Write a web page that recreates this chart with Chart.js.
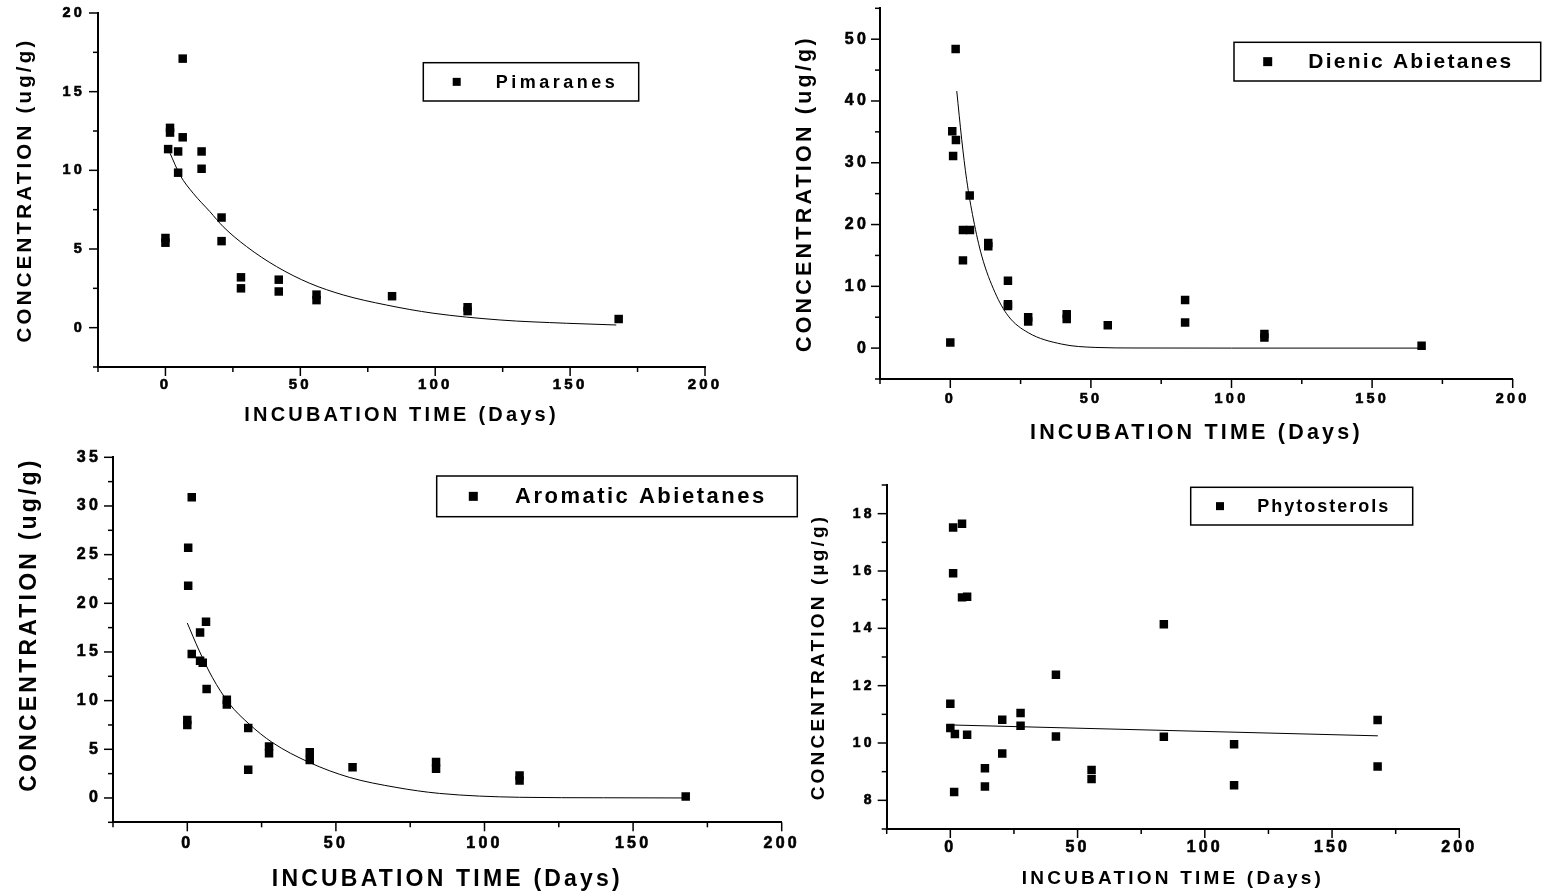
<!DOCTYPE html>
<html>
<head>
<meta charset="utf-8">
<title>Incubation time series</title>
<script src="https://cdn.jsdelivr.net/npm/chart.js@4.4.1/dist/chart.umd.min.js"></script>
<style>
  html, body { margin: 0; padding: 0; background: #fff; }
  #wrap { position: relative; width: 1545px; height: 894px; overflow: hidden; }
  canvas { position: absolute; }
</style>
</head>
<body>
<div id="wrap">
  <canvas id="pim" width="770" height="440" style="left:0px;top:0px"></canvas>
  <canvas id="dien" width="775" height="450" style="left:770px;top:0px"></canvas>
  <canvas id="arom" width="800" height="454" style="left:0px;top:440px"></canvas>
  <canvas id="phyt" width="745" height="444" style="left:800px;top:450px"></canvas>
</div>
<script>
// values (x = days, y = ug/g)
const pimDays = [0, 0, 1, 1.7, 1.7, 4.7, 4.7, 6.4, 6.4, 13.4, 13.4, 20.8, 20.8, 28, 28, 42, 42, 56, 56, 84, 112, 112, 168];
const pimConc = [5.4, 5.7, 11.35, 12.7, 12.4, 11.2, 9.85, 17.1, 12.1, 11.2, 10.1, 7.0, 5.5, 3.2, 2.5, 3.05, 2.3, 2.1, 1.75, 2.0, 1.3, 1.05, 0.55];
const pimFitDays = [1.7, 5.4, 10.3, 16.5, 21.4, 30.1, 41.2, 53.5, 65.9, 81.9, 99.2, 123.9, 148.6, 167.1];
const pimFitConc = [11.09, 9.7, 8.54, 7.37, 6.42, 5.15, 3.88, 2.82, 2.08, 1.44, 0.92, 0.49, 0.28, 0.17];

const dienDays = [0, 1.9, 0.7, 2.0, 1.0, 6.9, 4.5, 7.0, 4.5, 13.5, 13.5, 20.5, 20.5, 20.5, 27.7, 27.7, 41.4, 41.4, 56, 83.5, 83.5, 111.7, 111.7, 167.6];
const dienConc = [0.9, 48.4, 35.1, 33.7, 31.1, 24.7, 19.1, 19.1, 14.2, 16.5, 17.0, 10.9, 6.8, 7.1, 4.3, 5.0, 5.5, 4.7, 3.7, 7.8, 4.15, 1.7, 2.3, 0.37];
const dienFitDays = [2.3, 4.05, 5.8, 8.2, 11.2, 15.9, 20.6, 27.7, 39.6, 51.5, 65.7, 100, 168];
const dienFitConc = [41.6, 33.8, 27.3, 20.9, 14.9, 9.0, 5.2, 2.5, 0.65, 0.11, 0.02, 0, 0];

const aromDays = [1.5, 0.3, 0.3, 0, 0, 1.5, 4.3, 6.3, 4.3, 5.2, 6.5, 13.3, 13.3, 20.5, 20.5, 27.5, 27.5, 41.2, 41.2, 55.6, 83.7, 83.7, 111.8, 111.8, 167.7];
const aromConc = [30.9, 25.7, 21.8, 8.0, 7.5, 14.8, 17.0, 18.1, 14.1, 13.9, 11.2, 9.6, 10.1, 7.2, 2.9, 5.3, 4.6, 4.7, 3.9, 3.15, 3.7, 3.0, 2.3, 1.8, 0.15];
const aromFitDays = [0, 3.9, 8.4, 14.1, 20.8, 28.6, 41, 54.5, 70.2, 84.8, 111.8, 140, 168];
const aromFitConc = [17.97, 15.2, 12.4, 9.7, 7.6, 5.7, 3.66, 2.12, 1.09, 0.47, 0.07, 0.02, 0];

const phytDays = [0, 0, 1.1, 4.6, 1.1, 4.6, 6.6, 1.8, 6.6, 1.5, 13.6, 13.6, 20.4, 20.4, 27.6, 27.6, 41.5, 41.5, 55.5, 55.5, 83.9, 83.9, 111.5, 111.5, 167.9, 167.9];
const phytConc = [11.37, 10.52, 17.52, 17.65, 15.92, 15.08, 15.1, 10.31, 10.29, 8.29, 9.12, 8.48, 10.81, 9.63, 11.05, 10.6, 12.38, 10.23, 9.06, 8.74, 14.14, 10.22, 9.96, 8.53, 10.8, 9.18];
const phytFitDays = [0, 168];
const phytFitConc = [10.63, 10.25];

const xTitle = 'INCUBATION TIME (Days)';
const FONT = "'Liberation Sans', Arial, Helvetica, sans-serif";

// letter spacing for axis text (the scanned figure uses spaced-out bold type)
const spacing = {
  id: 'spacing',
  beforeDraw(chart, args, opts) {
    chart.ctx.letterSpacing = opts.px + 'px';
  }
};

// major / minor tick marks, outward
const tickMarks = {
  id: 'tickMarks',
  afterDraw(chart, args, opts) {
    const ctx = chart.ctx;
    ctx.save();
    ctx.strokeStyle = '#000';
    ctx.lineWidth = 1.5;
    [chart.scales.x, chart.scales.y].forEach(s => {
      s.ticks.forEach(t => {
        const len = t.label !== '' ? opts.major : opts.minor;
        const p = s.getPixelForValue(t.value);
        ctx.beginPath();
        if (s.axis === 'x') {
          ctx.moveTo(p, s.top);
          ctx.lineTo(p, s.top + len);
        } else {
          ctx.moveTo(s.right, p);
          ctx.lineTo(s.right - len, p);
        }
        ctx.stroke();
      });
    });
    ctx.restore();
  }
};

// boxed legend like the original
const boxLegend = {
  id: 'boxLegend',
  afterDraw(chart, args, o) {
    const ctx = chart.ctx;
    const ds = chart.data.datasets[0];
    ctx.save();
    ctx.strokeStyle = '#000';
    ctx.lineWidth = 1.5;
    ctx.strokeRect(o.x, o.y, o.w, o.h);
    const cy = o.y + o.h / 2;
    ctx.fillStyle = '#000';
    ctx.fillRect(o.x + o.mx - o.marker / 2, cy - o.marker / 2, o.marker, o.marker);
    ctx.letterSpacing = o.spacing + 'px';
    ctx.font = 'bold ' + o.size + 'px ' + FONT;
    ctx.textBaseline = 'middle';
    ctx.textAlign = 'left';
    ctx.fillText(ds.label, o.x + o.tx, cy + 1);
    ctx.restore();
  }
};

function panel(id, o) {
  const pts = o.days.map((d, i) => ({x: d, y: o.conc[i]}));
  const fit = o.fitDays.map((d, i) => ({x: d, y: o.fitConc[i]}));
  return new Chart(document.getElementById(id), {
    type: 'scatter',
    data: {
      datasets: [
        {label: o.label, data: pts, pointStyle: 'rect', pointRadius: 6, pointHoverRadius: 6,
         backgroundColor: '#000', borderWidth: 0},
        {label: 'fit', data: fit, showLine: true, borderColor: '#000', borderWidth: 1,
         pointRadius: 0, cubicInterpolationMode: 'monotone', fill: false}
      ]
    },
    options: {
      responsive: false,
      animation: false,
      events: [],
      layout: {padding: o.pad},
      plugins: {
        legend: {display: false},
        tooltip: {enabled: false},
        spacing: {px: 3.2},
        tickMarks: {major: 9, minor: 5},
        boxLegend: o.legend
      },
      scales: {
        x: {
          type: 'linear', min: -25, max: 200,
          grid: {display: false, drawTicks: false},
          border: {display: true, color: '#000', width: 2},
          ticks: {stepSize: 25, autoSkip: false, maxRotation: 0, padding: o.x.pad, color: '#000',
                  textStrokeColor: '#000', textStrokeWidth: 0.6,
                  font: {family: FONT, size: o.x.font, weight: 'bold'},
                  callback: v => Math.abs(v % 50) < 1e-9 ? String(v) : ''},
          title: {display: true, text: xTitle, color: '#000',
                  font: {family: FONT, size: o.x.title, weight: 'bold'},
                  padding: {top: 0, bottom: o.x.titlePad}},
          afterFit: s => { s.height = o.x.h; s.paddingLeft = 0; s.paddingRight = 0; }
        },
        y: {
          type: 'linear', min: o.y.min, max: o.y.max,
          grid: {display: false, drawTicks: false},
          border: {display: true, color: '#000', width: 2},
          ticks: {stepSize: o.y.step, autoSkip: false, padding: o.y.pad, color: '#000',
                  textStrokeColor: '#000', textStrokeWidth: 0.6,
                  font: {family: FONT, size: o.y.font, weight: 'bold'},
                  callback: v => Math.abs(v % o.y.major) < 1e-9 ? String(v) : ''},
          title: {display: true, text: o.y.text, color: '#000', align: o.y.align || 'center',
                  font: {family: FONT, size: o.y.title, weight: 'bold'},
                  padding: {top: o.y.titlePad, bottom: 0}},
          afterFit: s => { s.width = o.y.w; s.paddingTop = 0; s.paddingBottom = 0; }
        }
      }
    },
    plugins: [spacing, tickMarks, boxLegend]
  });
}

panel('pim', {
  label: 'Pimaranes', days: pimDays, conc: pimConc, fitDays: pimFitDays, fitConc: pimFitConc,
  pad: {left: 0, top: 13, right: 65, bottom: 13},
  x: {font: 15, pad: 9, h: 60, title: 20, titlePad: 0},
  y: {min: -2.5, max: 20, step: 2.5, major: 5, font: 14.5, pad: 13, w: 98, title: 20.5, titlePad: 13,
      text: 'CONCENTRATION (ug/g)'},
  legend: {x: 423.3, y: 62.7, w: 215.4, h: 38.3, mx: 33.4, tx: 72.4, size: 18, spacing: 3.5, marker: 8}
});

panel('dien', {
  label: 'Dienic Abietanes', days: dienDays, conc: dienConc, fitDays: dienFitDays, fitConc: dienFitConc,
  pad: {left: 0, top: 8.3, right: 32.3, bottom: 1},
  x: {font: 14.5, pad: 11, h: 70, title: 21.5, titlePad: 3},
  y: {min: -5, max: 55, step: 5, major: 10, font: 16, pad: 11, w: 110, title: 21.5, titlePad: 22,
      text: 'CONCENTRATION (ug/g)'},
  legend: {x: 464, y: 42.3, w: 306.7, h: 38.7, mx: 33.7, tx: 74.3, size: 21, spacing: 2.25, marker: 9}
});

panel('arom', {
  label: 'Aromatic Abietanes', days: aromDays, conc: aromConc, fitDays: aromFitDays, fitConc: aromFitConc,
  pad: {left: 0, top: 17.3, right: 18.3, bottom: 0},
  x: {font: 16, pad: 11.4, h: 71.7, title: 23, titlePad: 0.2},
  y: {min: -2.5, max: 35, step: 2.5, major: 5, font: 16, pad: 12, w: 113, title: 23, titlePad: 16.2,
      text: 'CONCENTRATION (ug/g)', align: 'end'},
  legend: {x: 436.7, y: 36, w: 360.6, h: 40.7, mx: 36.6, tx: 78.3, size: 22, spacing: 2.5, marker: 9}
});

panel('phyt', {
  label: 'Phytosterols', days: phytDays, conc: phytConc, fitDays: phytFitDays, fitConc: phytFitConc,
  pad: {left: 0, top: 35, right: 85.7, bottom: 0},
  x: {font: 16, pad: 8.7, h: 65, title: 19, titlePad: 4.3},
  y: {min: 7, max: 19, step: 1, major: 2, font: 14, pad: 12, w: 86.7, title: 19, titlePad: 7.3,
      text: 'CONCENTRATION (\u00b5g/g)'},
  legend: {x: 390.7, y: 37.3, w: 222, h: 37.7, mx: 29.3, tx: 66.6, size: 18, spacing: 2, marker: 8}
});
</script>
</body>
</html>
